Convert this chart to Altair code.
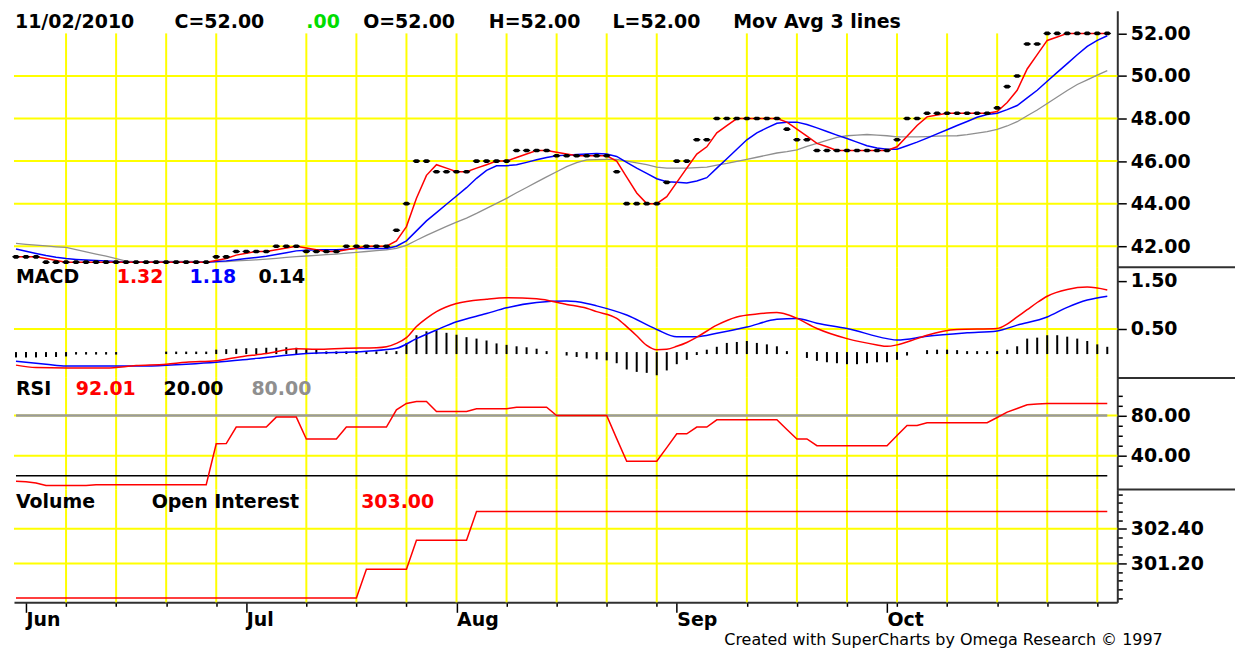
import json
import altair as alt
import pandas as pd

# ---------------- values ----------------
closes = [
    41.5, 41.5, 41.5, 41.25, 41.25, 41.25, 41.25, 41.25, 41.25, 41.25,
    41.25, 41.25, 41.25, 41.25, 41.25, 41.25, 41.25, 41.25, 41.25, 41.25,
    41.5, 41.5, 41.75, 41.75, 41.75, 41.75, 42.0, 42.0, 42.0, 41.75,
    41.75, 41.75, 41.75, 42.0, 42.0, 42.0, 42.0, 42.0, 42.75, 44.0,
    46.0, 46.0, 45.5, 45.5, 45.5, 45.5, 46.0, 46.0, 46.0, 46.0,
    46.5, 46.5, 46.5, 46.5, 46.25, 46.25, 46.25, 46.25, 46.25, 46.25,
    45.5, 44.0, 44.0, 44.0, 44.0, 45.0, 46.0, 46.0, 47.0, 47.0,
    48.0, 48.0, 48.0, 48.0, 48.0, 48.0, 48.0, 47.5, 47.0, 47.0,
    46.5, 46.5, 46.5, 46.5, 46.5, 46.5, 46.5, 46.5, 47.0, 48.0,
    48.0, 48.25, 48.25, 48.25, 48.25, 48.25, 48.25, 48.25, 48.5, 49.5,
    50.0, 51.5, 51.5, 52.0, 52.0, 52.0, 52.0, 52.0, 52.0, 52.0,
]
ma_fast = [
    41.5, 41.5, 41.5, 41.42, 41.33, 41.25, 41.25, 41.25, 41.25, 41.25,
    41.25, 41.25, 41.25, 41.25, 41.25, 41.25, 41.25, 41.25, 41.25, 41.25,
    41.33, 41.42, 41.58, 41.67, 41.75, 41.75, 41.83, 41.92, 42.0, 41.92,
    41.83, 41.75, 41.75, 41.83, 41.92, 42.0, 42.0, 42.0, 42.25, 42.92,
    44.25, 45.33, 45.83, 45.67, 45.5, 45.5, 45.67, 45.83, 46.0, 46.0,
    46.17, 46.33, 46.5, 46.5, 46.42, 46.33, 46.25, 46.25, 46.25, 46.25,
    46.0, 45.25, 44.5, 44.0, 44.0, 44.33, 45.0, 45.67, 46.33, 46.67,
    47.33, 47.67, 48.0, 48.0, 48.0, 48.0, 48.0, 47.83, 47.5, 47.17,
    46.83, 46.67, 46.5, 46.5, 46.5, 46.5, 46.5, 46.5, 46.67, 47.17,
    47.67, 48.08, 48.17, 48.25, 48.25, 48.25, 48.25, 48.25, 48.33, 48.75,
    49.33, 50.33, 51.0, 51.67, 51.83, 52.0, 52.0, 52.0, 52.0, 52.0,
]
ma_mid = [
    41.87, 41.76, 41.66, 41.56, 41.48, 41.42, 41.38, 41.35, 41.33, 41.31,
    41.28, 41.25, 41.25, 41.25, 41.25, 41.25, 41.25, 41.25, 41.25, 41.25,
    41.28, 41.31, 41.36, 41.42, 41.47, 41.53, 41.61, 41.69, 41.78, 41.81,
    41.83, 41.83, 41.83, 41.86, 41.89, 41.89, 41.89, 41.89, 42.0, 42.25,
    42.72, 43.19, 43.58, 43.97, 44.36, 44.75, 45.19, 45.56, 45.78, 45.78,
    45.83, 45.94, 46.06, 46.17, 46.25, 46.28, 46.31, 46.33, 46.36, 46.33,
    46.22, 45.94, 45.67, 45.42, 45.17, 45.03, 45.0, 44.97, 45.06, 45.22,
    45.67, 46.11, 46.56, 47.0, 47.33, 47.56, 47.78, 47.83, 47.83, 47.72,
    47.56, 47.39, 47.22, 47.06, 46.89, 46.72, 46.61, 46.56, 46.56, 46.72,
    46.89, 47.08, 47.28, 47.47, 47.67, 47.86, 48.06, 48.19, 48.25, 48.42,
    48.61, 48.97, 49.33, 49.75, 50.17, 50.58, 51.0, 51.39, 51.67, 51.89,
]
ma_slow = [
    42.13, 42.09, 42.05, 42.01, 41.97, 41.94, 41.84, 41.73, 41.63, 41.53,
    41.42, 41.30, 41.27, 41.27, 41.28, 41.28, 41.29, 41.29, 41.28, 41.26,
    41.26, 41.28, 41.31, 41.33, 41.36, 41.39, 41.43, 41.47, 41.51, 41.54,
    41.57, 41.60, 41.63, 41.67, 41.71, 41.75, 41.79, 41.83, 41.90, 42.04,
    42.28, 42.51, 42.72, 42.93, 43.13, 43.32, 43.54, 43.78, 44.01, 44.25,
    44.51, 44.76, 45.01, 45.26, 45.50, 45.74, 45.93, 46.06, 46.07, 46.08,
    46.08, 46.00, 45.92, 45.83, 45.72, 45.67, 45.67, 45.67, 45.69, 45.72,
    45.81, 45.89, 45.99, 46.08, 46.18, 46.28, 46.38, 46.44, 46.53, 46.69,
    46.83, 46.97, 47.11, 47.19, 47.22, 47.25, 47.22, 47.19, 47.14, 47.14,
    47.14, 47.15, 47.17, 47.18, 47.19, 47.24, 47.31, 47.38, 47.49, 47.65,
    47.85, 48.13, 48.40, 48.71, 49.01, 49.32, 49.60, 49.82, 50.04, 50.25,
]

macd_idx = [0, 2, 5, 9, 12, 15, 17, 20, 22, 25, 28, 30, 33, 36, 37, 38, 39, 40, 41, 42,
            44, 47, 49, 52, 55, 57, 58, 60, 61, 62, 63, 64, 65, 66, 67, 68, 70, 72, 74, 76,
            77, 78, 80, 83, 86, 87, 88, 90, 91, 94, 98, 99, 100, 101, 102, 103, 105, 107, 109]
macd_val = [-0.25, -0.30, -0.31, -0.31, -0.26, -0.23, -0.19, -0.16, -0.09, -0.01,
            0.09, 0.08, 0.10, 0.11, 0.13, 0.20, 0.32, 0.55, 0.72, 0.86,
            1.03, 1.12, 1.15, 1.13, 1.01, 0.93, 0.86, 0.72, 0.55, 0.36,
            0.16, 0.07, 0.08, 0.14, 0.22, 0.33, 0.58, 0.75, 0.81, 0.84,
            0.80, 0.72, 0.51, 0.30, 0.17, 0.14, 0.17, 0.30, 0.37, 0.49,
            0.51, 0.60, 0.75, 0.90, 1.05, 1.18, 1.32, 1.37, 1.31]
signal_idx = [0, 3, 5, 13, 17, 20, 24, 29, 35, 38, 40, 42, 44, 47, 49, 52, 55, 57, 58, 61,
              64, 66, 68, 70, 73, 76, 78, 80, 83, 87, 88, 91, 95, 98, 100, 103, 105, 107, 109]
signal_val = [-0.17, -0.23, -0.27, -0.27, -0.23, -0.19, -0.11, -0.01, 0.04, 0.10,
              0.30, 0.48, 0.65, 0.82, 0.94, 1.05, 1.08, 1.03, 0.98, 0.79,
              0.49, 0.34, 0.34, 0.41, 0.54, 0.70, 0.72, 0.62, 0.51, 0.30,
              0.27, 0.35, 0.42, 0.46, 0.58, 0.75, 0.95, 1.10, 1.18]
macd_hist = [
    -0.07, -0.07, -0.07, -0.06, -0.06, -0.05, -0.01, -0.01, -0.01, -0.01,
    -0.01, 0.0, 0.0, 0.0, 0.0, 0.01, 0.01, 0.01, 0.01, 0.01,
    0.05, 0.06, 0.07, 0.08, 0.08, 0.09, 0.09, 0.10, 0.09, 0.06,
    0.05, 0.015, 0.015, 0.015, 0.015, 0.015, 0.015, 0.015, 0.02, 0.19,
    0.35, 0.43, 0.45, 0.40, 0.36, 0.31, 0.28, 0.24, 0.18, 0.15,
    0.12, 0.10, 0.07, 0.02, 0.0, -0.03, -0.06, -0.09, -0.11, -0.13,
    -0.19, -0.32, -0.37, -0.39, -0.44, -0.34, -0.21, -0.12, -0.02, 0.05,
    0.11, 0.19, 0.21, 0.23, 0.19, 0.16, 0.12, 0.02, 0.0, -0.08,
    -0.14, -0.17, -0.19, -0.21, -0.21, -0.19, -0.17, -0.17, -0.12, -0.03,
    0.0, 0.04, 0.05, 0.05, 0.04, 0.02, 0.02, 0.02, 0.02, 0.05,
    0.12, 0.28, 0.30, 0.35, 0.35, 0.32, 0.28, 0.23, 0.16, 0.11,
]
rsi = [
    14.5, 14.0, 12.8, 10.3, 10.3, 10.3, 10.3, 10.3, 11.2, 11.2,
    11.2, 11.2, 11.2, 11.2, 11.2, 11.2, 11.2, 11.2, 11.2, 11.2,
    51.9, 52.0, 68.5, 68.5, 68.5, 68.5, 78.4, 78.4, 78.4, 56.6,
    56.6, 56.6, 56.6, 68.5, 68.5, 68.5, 68.5, 68.5, 85.7, 92.0,
    93.9, 93.9, 84.0, 84.0, 84.0, 84.0, 86.6, 86.6, 86.6, 86.6,
    88.3, 88.3, 88.3, 88.3, 80.0, 80.0, 80.0, 80.0, 80.0, 80.0,
    57.0, 34.4, 34.4, 34.4, 34.4, 48.0, 61.8, 61.8, 68.5, 68.5,
    75.7, 75.7, 75.7, 75.7, 75.7, 75.7, 75.7, 66.0, 56.6, 56.6,
    49.9, 49.9, 49.9, 49.9, 49.9, 49.9, 49.9, 49.9, 60.0, 70.1,
    70.1, 72.8, 72.8, 72.8, 72.8, 72.8, 72.8, 72.8, 78.0, 83.4,
    87.0, 90.6, 91.5, 92.0, 92.0, 92.0, 92.0, 92.0, 92.0, 92.0,
]
rsi_levels = [20, 80]
open_interest = [
    300, 300, 300, 300, 300, 300, 300, 300, 300, 300,
    300, 300, 300, 300, 300, 300, 300, 300, 300, 300,
    300, 300, 300, 300, 300, 300, 300, 300, 300, 300,
    300, 300, 300, 300, 300, 301, 301, 301, 301, 301,
    302, 302, 302, 302, 302, 302, 303, 303, 303, 303,
    303, 303, 303, 303, 303, 303, 303, 303, 303, 303,
    303, 303, 303, 303, 303, 303, 303, 303, 303, 303,
    303, 303, 303, 303, 303, 303, 303, 303, 303, 303,
    303, 303, 303, 303, 303, 303, 303, 303, 303, 303,
    303, 303, 303, 303, 303, 303, 303, 303, 303, 303,
    303, 303, 303, 303, 303, 303, 303, 303, 303, 303,
]

# trading-day index of each Monday (weekly grid) and of each month's first session
monday_idx = [5, 10, 15, 20, 29, 34, 39, 44, 49, 54, 59, 64, 73, 78, 83, 88, 93, 98, 103, 108]
month_idx = [1, 23, 44, 66, 87]
month_names = ["Jun", "Jul", "Aug", "Sep", "Oct"]

price_ticks = [42, 44, 46, 48, 50, 52]
price_grid = [42, 44, 46, 48, 50]
macd_ticks = [0.5, 1.5]
macd_grid = [0.5]
rsi_ticks = [30, 40, 50, 60, 70, 80, 90, 100]
rsi_grid = [40, 80]
oi_ticks = [300.0, 300.3, 300.6, 300.9, 301.2, 301.5, 301.8, 302.1, 302.4, 302.7, 303.0, 303.3, 303.6]
oi_grid = [301.2, 302.4]

price_header = ["11/02/2010", "C=52.00", ".00", "O=52.00", "H=52.00", "L=52.00", "Mov Avg 3 lines"]
macd_header = ["MACD", "1.32", "1.18", "0.14"]
rsi_header = ["RSI", "92.01", "20.00", "80.00"]
oi_header = ["Volume", "Open Interest", "303.00"]
footer_text = "Created with SuperCharts by Omega Research \u00a9 1997"

# ---------------- styling / layout ----------------
FONT = "DejaVu Sans"
YEL = "#ffff00"
RED = "#ff0000"
BLUE = "#0000ff"
GRAY = "#8f8f8f"
AX = "#303030"
W = 1106
H_PRICE, H_MACD, H_RSI, H_OI = 257, 111, 112, 113
SIDE = 118

x_scale = alt.Scale(domain=[-0.2, 110.0], nice=False, zero=False)
price_scale = alt.Scale(domain=[41.015, 53.064], nice=False, zero=False)
macd_scale = alt.Scale(domain=[-0.515, 1.784], nice=False, zero=False)
rsi_scale = alt.Scale(domain=[6.25, 117.42], nice=False, zero=False)
oi_scale = alt.Scale(domain=[299.85, 303.76], nice=False, zero=False)

idx = list(range(len(closes)))
price_df = pd.DataFrame({"i": idx, "close": closes, "fast": ma_fast, "mid": ma_mid, "slow": ma_slow})
ind_df = pd.DataFrame({"i": idx, "hist": macd_hist, "rsi": rsi, "oi": open_interest})
mon_df = pd.DataFrame({"i": monday_idx})


def right_axis(values, label_test=None):
    kw = dict(orient="right", values=values, format=".2f", title=None, grid=False,
              domainColor=AX, domainWidth=2, tickColor="black", tickWidth=1.5,
              labelFont=FONT, labelFontSize=19, labelFontWeight="bold", labelColor="black",
              labelPadding=4, labelOverlap=False, labelFlush=False)
    if label_test:
        kw["labelExpr"] = f"({label_test}) ? format(datum.value, '.2f') : ''"
        kw["tickSize"] = {"condition": {"test": label_test, "value": 9}, "value": 5}
    else:
        kw["tickSize"] = 9
    return alt.Axis(**kw)


m_test = f"indexof({json.dumps(month_idx)}, datum.value) >= 0"
x_axis = alt.Axis(
    values=sorted(set(monday_idx + month_idx)),
    labelExpr=f"({m_test}) ? {json.dumps(month_names)}[indexof({json.dumps(month_idx)}, datum.value)] : ''",
    tickSize={"condition": {"test": m_test, "value": 10}, "value": 4},
    tickColor="black", tickWidth=1.5, domainColor=AX, domainWidth=2,
    labelAlign="left", labelBaseline="top", labelPadding=-2,
    labelFont=FONT, labelFontSize=19, labelFontWeight="bold", labelColor="black",
    labelOverlap=False, labelFlush=False, grid=False, title=None)


class Panel:
    """Holds the y scale / axis of one panel so every layer shares the same axis spec."""

    def __init__(self, scale, axis, height, xaxis=None):
        self.scale, self.axis, self.height, self.xaxis = scale, axis, height, xaxis

    def x(self, field="i"):
        return alt.X(f"{field}:Q", scale=x_scale, axis=self.xaxis, title=None)

    def y(self, field):
        return alt.Y(f"{field}:Q", scale=self.scale, axis=self.axis, title=None)

    def vgrid(self, top=None):
        enc = dict(x=self.x(), y2=alt.value(self.height))
        enc["y"] = alt.value(0) if top is None else alt.YDatum(top, scale=self.scale, axis=self.axis)
        return alt.Chart(mon_df).mark_rule(color=YEL, strokeWidth=2).encode(**enc)

    def hgrid(self, values):
        return alt.Chart(pd.DataFrame({"v": values})).mark_rule(color=YEL, strokeWidth=2).encode(
            y=self.y("v"), x=alt.value(0), x2=alt.value(W))

    def line(self, df, field, color, width=1.4, interp="linear"):
        return alt.Chart(df).mark_line(color=color, strokeWidth=width, interpolate=interp).encode(
            x=self.x(), y=self.y(field))

    def separator(self):
        return alt.Chart(pd.DataFrame({"v": [0]})).mark_rule(color=AX, strokeWidth=2).encode(
            x=alt.value(W), x2=alt.value(W + SIDE), y=alt.value(self.height))


def label(txt, x, y, color="black", size=19, weight="bold"):
    return alt.Chart(pd.DataFrame({"t": [txt]})).mark_text(
        align="left", baseline="middle", font=FONT, fontSize=size, fontWeight=weight, color=color
    ).encode(x=alt.value(x), y=alt.value(y), text="t:N")


# ---------------- price panel ----------------
P = Panel(price_scale, right_axis(price_ticks), H_PRICE)
DOT = "M-1,0L-0.4,-0.45L0.4,-0.45L1,0L0.4,0.45L-0.4,0.45Z"
price_pos = [(1, "black"), (161, "black"), (293, "#00dd00"), (350, "black"),
             (476, "black"), (600, "black"), (721, "black")]
price_panel = alt.layer(
    P.vgrid(price_ticks[-1]),
    P.hgrid(price_grid),
    P.line(price_df, "slow", GRAY, 1.3),
    P.line(price_df, "mid", BLUE, 1.5),
    P.line(price_df, "fast", RED, 1.5),
    alt.Chart(price_df).mark_point(shape=DOT, filled=True, color="black", size=64, opacity=1).encode(
        x=P.x(), y=P.y("close")),
    P.separator(),
    *[label(t, p[0], 11, p[1]) for t, p in zip(price_header, price_pos)],
).properties(width=W, height=H_PRICE)

# ---------------- MACD panel ----------------
M = Panel(macd_scale, right_axis(macd_ticks), H_MACD)
macd_df = pd.DataFrame({"i": macd_idx, "v": macd_val})
signal_df = pd.DataFrame({"i": signal_idx, "v": signal_val})
macd_pos = [(2, "black"), (103, RED), (176, BLUE), (245, "black")]
macd_panel = alt.layer(
    M.vgrid(),
    M.hgrid(macd_grid),
    alt.Chart(ind_df).transform_filter("datum.hist != 0").mark_rule(
        color="black", strokeWidth=2, strokeCap="square").encode(
        x=M.x(), y=M.y("hist"), y2=alt.datum(0)),
    M.line(signal_df, "v", BLUE, 1.5, "monotone"),
    M.line(macd_df, "v", RED, 1.5, "monotone"),
    M.separator(),
    *[label(t, p[0], 10, p[1]) for t, p in zip(macd_header, macd_pos)],
).properties(width=W, height=H_MACD)

# ---------------- RSI panel ----------------
R = Panel(rsi_scale, right_axis(rsi_ticks, "datum.value == 40 || datum.value == 80"), H_RSI)
lvl_df = pd.DataFrame({"level": rsi_levels, "start": [0, 0], "end": [len(rsi) - 1, len(rsi) - 1]})
rsi_pos = [(2, "black"), (62, RED), (150, "black"), (238, GRAY)]


def level_rule(level, color, width):
    return alt.Chart(lvl_df).transform_filter(f"datum.level == {level}").mark_rule(
        color=color, strokeWidth=width).encode(x=R.x("start"), x2="end:Q", y=R.y("level"))


rsi_panel = alt.layer(
    R.vgrid(),
    R.hgrid(rsi_grid),
    level_rule(rsi_levels[0], "#000000", 1.6),
    level_rule(rsi_levels[1], "#9a9a9a", 2.6),
    R.line(ind_df, "rsi", RED, 1.5),
    R.separator(),
    *[label(t, p[0], 11, p[1]) for t, p in zip(rsi_header, rsi_pos)],
).properties(width=W, height=H_RSI)

# ---------------- Open interest panel ----------------
O = Panel(oi_scale,
          right_axis(oi_ticks, "abs(datum.value - 301.2) < 0.01 || abs(datum.value - 302.4) < 0.01"),
          H_OI, xaxis=x_axis)
oi_pos = [(2, "black"), (138, "black"), (348, RED)]
oi_panel = alt.layer(
    O.vgrid(),
    O.hgrid(oi_grid),
    O.line(ind_df, "oi", RED, 1.5),
    *[label(t, p[0], 12, p[1]) for t, p in zip(oi_header, oi_pos)],
    label(footer_text, 712, 151, "black", 16, "normal"),
).properties(width=W, height=H_OI)

chart = alt.vconcat(price_panel, macd_panel, rsi_panel, oi_panel, spacing=0).properties(
    bounds="flush", padding={"left": 4, "top": 2, "right": 0, "bottom": 0}, background="white"
).configure_view(strokeWidth=0)

chart.save("out.html", embed_options={"renderer": "svg", "actions": False})
